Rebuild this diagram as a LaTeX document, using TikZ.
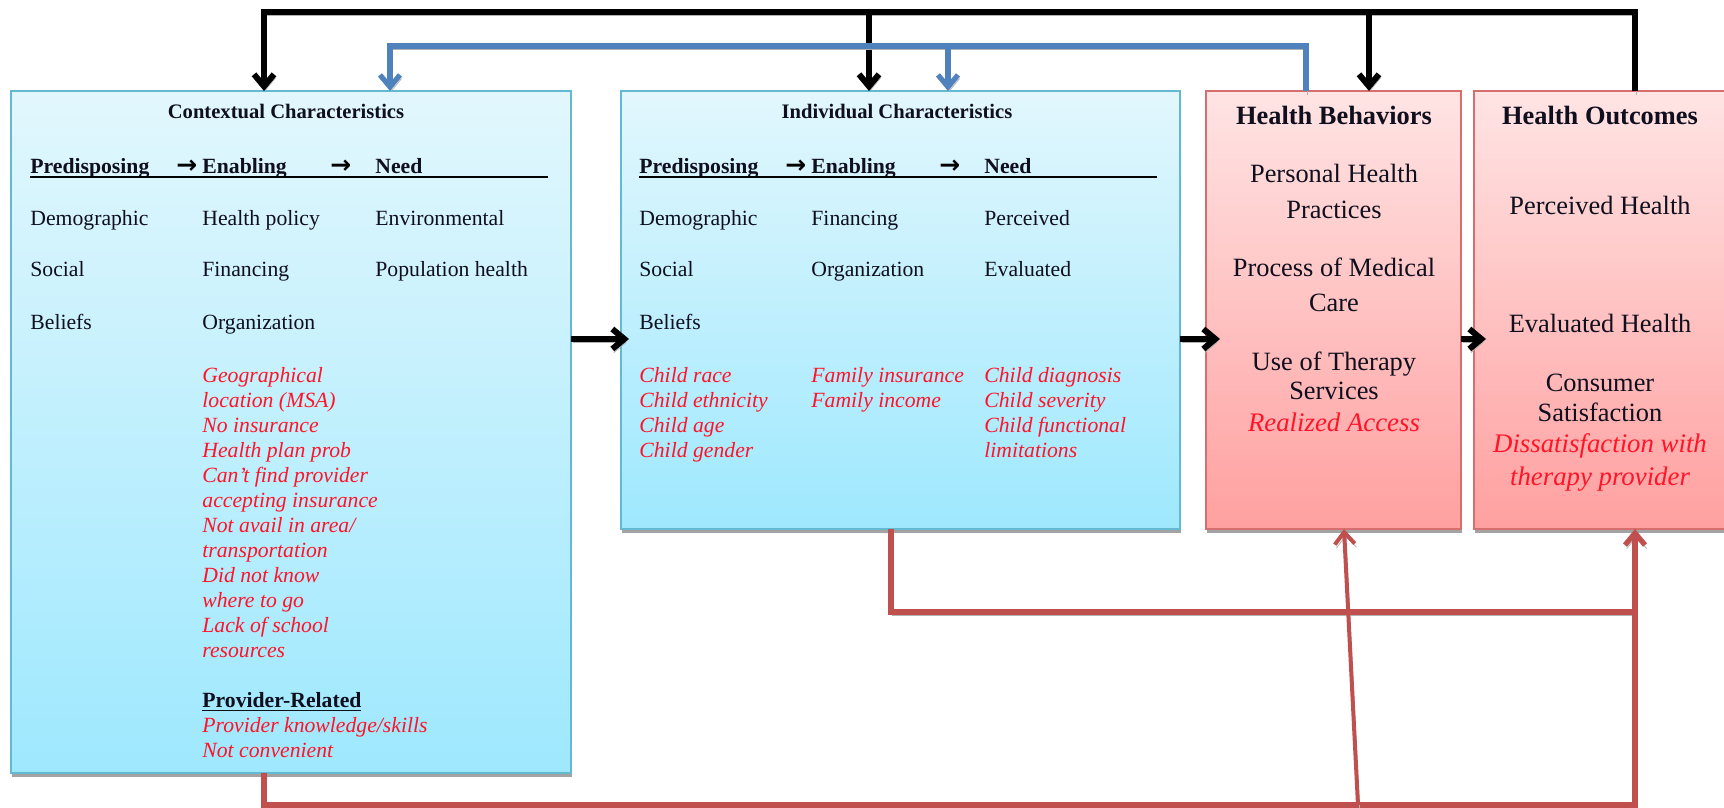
\documentclass[tikz,border=0pt]{standalone}
\usepackage{fontspec}
\setmainfont{Liberation Serif}
\newfontfamily\arrowfont{DejaVu Sans}
\usetikzlibrary{arrows.meta,shadows}
\definecolor{cyantop}{RGB}{226,247,253}
\definecolor{cyanbot}{RGB}{158,232,254}
\definecolor{cyanborder}{RGB}{100,185,210}
\definecolor{pinktop}{RGB}{255,228,228}
\definecolor{pinkbot}{RGB}{255,160,160}
\definecolor{pinkborder}{RGB}{215,110,110}
\definecolor{conred}{RGB}{192,80,77}
\definecolor{conblue}{RGB}{79,129,189}
\definecolor{txtred}{RGB}{255,20,40}
\definecolor{txtdark}{RGB}{15,15,30}
\begin{document}
\begin{tikzpicture}[x=0.5pt,y=-0.5pt,
  box/.style={inner sep=0, outer sep=0, anchor=north west, line width=0.7pt},
  cbox/.style={box, top color=cyantop, bottom color=cyanbot, draw=cyanborder,
    drop shadow={shadow xshift=0.6pt, shadow yshift=-2.2pt, fill=black!45, opacity=0.8}},
  pbox/.style={box, top color=pinktop, bottom color=pinkbot, draw=pinkborder,
    drop shadow={shadow xshift=0.6pt, shadow yshift=-2.2pt, fill=black!45, opacity=0.8}},
  t/.style={inner sep=0, anchor=base west, text=txtdark, font=\fontsize{10.85}{13}\selectfont},
  rt/.style={t, text=txtred, font=\fontsize{10.85}{13}\selectfont\itshape},
  hd/.style={t, font=\fontsize{10.85}{13}\selectfont\bfseries},
  ttl/.style={inner sep=0, anchor=base, text=txtdark, font=\fontsize{10.3}{12}\selectfont\bfseries},
  arr/.style={inner sep=0, anchor=base west, font=\fontsize{12.5}{14}\arrowfont\bfseries},
  big/.style={inner sep=0, anchor=base, text=txtdark, font=\fontsize{13.2}{16}\selectfont},
  bigttl/.style={big, font=\fontsize{13.2}{16}\selectfont\bfseries},
  bigred/.style={big, text=txtred, font=\fontsize{13.4}{16}\selectfont\itshape},
  lnshadow/.style={preaction={draw=black!30, transform canvas={shift={(0.8pt,-1.8pt)}}}},
  blk/.style={draw=black, line width=3pt, lnshadow},
  blu/.style={draw=conblue, line width=2.6pt, lnshadow},
  rd/.style={draw=conred, line width=2.6pt, lnshadow},
  tipb/.style={-{Straight Barb[length=6pt,width=10pt]}}
]
\useasboundingbox (0,0) rectangle (1724,808);

% boxes
\node[cbox, minimum width=280pt, minimum height=341pt] (ctx) at (11,91) {};
\node[cbox, minimum width=279.5pt, minimum height=219pt] (ind) at (621,91) {};
\node[pbox, minimum width=127.5pt, minimum height=219pt] (hb) at (1206,91) {};
\node[pbox, minimum width=140pt, minimum height=219pt] (ho) at (1474,91) {};

% ---------- Contextual characteristics ----------
\node[ttl] (ctxT) at (286,119) {Contextual Characteristics};
\node[hd] (ctxH1) at (30,173) {Predisposing};
\node[arr] (ctxA1) at (176,174) {→};
\node[hd] (ctxH2) at (202,173) {Enabling};
\node[arr] (ctxA2) at (330,174) {→};
\node[hd] (ctxH3) at (375,173) {Need};
\draw[line width=1.1pt] (30,177) -- (548,177);

\node[t] (c11) at (30,225) {Demographic};
\node[t] (c12) at (202,225) {Health policy};
\node[t] (c13) at (375,225) {Environmental};
\node[t] (c21) at (30,276) {Social};
\node[t] (c22) at (202,276) {Financing};
\node[t] (c23) at (375,276) {Population health};
\node[t] (c31) at (30,329) {Beliefs};
\node[t] (c32) at (202,329) {Organization};

\foreach \s [count=\i from 0] in {Geographical, location (MSA), No insurance, Health plan prob,
  Can’t find provider, accepting insurance, Not avail in area/, transportation,
  Did not know, where to go, Lack of school, resources}
  \node[rt] (cr\i) at (202,382+25*\i) {\s};
\node[hd] (cprov) at (202,707) {\underline{Provider-Related}};
\node[rt] (cprov1) at (202,732) {Provider knowledge/skills};
\node[rt] (cprov2) at (202,757) {Not convenient};

% ---------- Individual characteristics ----------
\node[ttl] (indT) at (897,119) {Individual Characteristics};
\node[hd] (indH1) at (639,173) {Predisposing};
\node[arr] (indA1) at (785,174) {→};
\node[hd] (indH2) at (811,173) {Enabling};
\node[arr] (indA2) at (939,174) {→};
\node[hd] (indH3) at (984,173) {Need};
\draw[line width=1.1pt] (639,177) -- (1157,177);

\node[t] (i11) at (639,225) {Demographic};
\node[t] (i12) at (811,225) {Financing};
\node[t] (i13) at (984,225) {Perceived};
\node[t] (i21) at (639,276) {Social};
\node[t] (i22) at (811,276) {Organization};
\node[t] (i23) at (984,276) {Evaluated};
\node[t] (i31) at (639,329) {Beliefs};

\foreach \s [count=\i from 0] in {Child race, Child ethnicity, Child age, Child gender}
  \node[rt] (ira\i) at (639,382+25*\i) {\s};
\foreach \s [count=\i from 0] in {Family insurance, Family income}
  \node[rt] (irb\i) at (811,382+25*\i) {\s};
\foreach \s [count=\i from 0] in {Child diagnosis, Child severity, Child functional, limitations}
  \node[rt] (irc\i) at (984,382+25*\i) {\s};

% ---------- Health behaviors ----------
\node[bigttl] (hbT) at (1334,125) {Health Behaviors};
\node[big] (hb1) at (1334,183) {Personal Health};
\node[big] (hb2) at (1334,218) {Practices};
\node[big] (hb3) at (1334,276) {Process of Medical};
\node[big] (hb4) at (1334,311) {Care};
\node[big] (hb5) at (1334,370) {Use of Therapy};
\node[big] (hb6) at (1334,399) {Services};
\node[bigred] (hb7) at (1334,431) {Realized Access};

% ---------- Health outcomes ----------
\node[bigttl] (hoT) at (1600,125) {Health Outcomes};
\node[big] (ho1) at (1600,214) {Perceived Health};
\node[big] (ho2) at (1600,332) {Evaluated Health};
\node[big] (ho3) at (1600,391) {Consumer};
\node[big] (ho4) at (1600,421) {Satisfaction};
\node[bigred] (ho5) at (1600,452) {Dissatisfaction with};
\node[bigred] (ho6) at (1600,485) {therapy provider};

% ---------- connectors ----------
\coordinate (bk1) at (264,12);
\coordinate (bk2) at (869,12);
\coordinate (bk3) at (1369,12);
\coordinate (bk4) at (1635,12);
\draw[blk, tipb] (ho.north -| bk4) -- (bk4) -- (bk1) -- (bk1 |- ctx.north);
\draw[blk, tipb] (bk2) -- (bk2 |- ind.north);
\draw[blk, tipb] (bk3) -- (bk3 |- hb.north);

\coordinate (bl1) at (390,46);
\coordinate (bl2) at (948,46);
\coordinate (bl3) at (1306,46);
\draw[blu, tipb] (hb.north -| bl3) -- (bl3) -- (bl1) -- (bl1 |- ctx.north);
\draw[blu, tipb] (bl2) -- (bl2 |- ind.north);

\coordinate (mid) at (0,339);
\draw[blk, tipb] (ctx.east |- mid) -- ([xshift=4pt]ind.west |- mid);
\draw[blk, tipb] (ind.east |- mid) -- ([xshift=7pt]hb.west |- mid);
\draw[blk, tipb] (hb.east |- mid) -- ([xshift=6pt]ho.west |- mid);

\coordinate (r1) at (891,612);
\coordinate (r2) at (1635,612);
\coordinate (r3) at (264,805);
\coordinate (r4) at (1635,805);
\coordinate (r5) at (1358,805);
\coordinate (r6) at (1344,530);
\draw[rd, line width=3pt] (ind.south -| r1) -- (r1) -- (r2);
\draw[rd, tipb] (ctx.south -| r3) -- (r3) -- (r4) -- (ho.south -| r4);
\draw[rd, line width=2pt, tipb] (r5) -- (hb.south -| r6);
\end{tikzpicture}
\end{document}
